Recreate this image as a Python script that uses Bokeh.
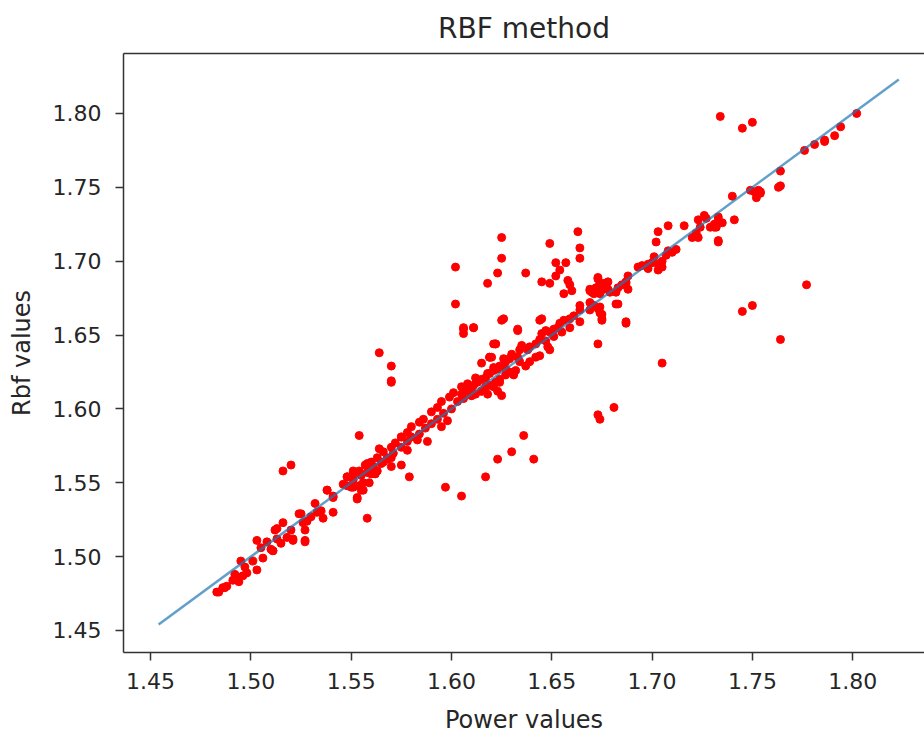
from bokeh.plotting import figure
from bokeh.models import FixedTicker, PrintfTickFormatter, LinearAxis, Range1d
from bokeh.embed import file_html
from bokeh.resources import INLINE

# Values
power_values = [
    1.734, 1.745, 1.750, 1.802, 1.794, 1.791, 1.786, 1.786, 1.781, 1.776,
    1.764, 1.763, 1.764, 1.751, 1.753, 1.752, 1.754, 1.749, 1.740, 1.754,
    1.726, 1.727, 1.731, 1.733, 1.732, 1.735, 1.741, 1.729, 1.733, 1.733,
    1.723, 1.724, 1.722, 1.720, 1.723, 1.733, 1.731, 1.716, 1.708, 1.703,
    1.702, 1.712, 1.710, 1.708, 1.707, 1.705, 1.703, 1.705, 1.703, 1.701,
    1.700, 1.698, 1.695, 1.693, 1.698, 1.688, 1.687, 1.685, 1.683, 1.688,
    1.677, 1.676, 1.679, 1.674, 1.682, 1.687, 1.675, 1.675, 1.673, 1.674,
    1.673, 1.678, 1.669, 1.669, 1.664, 1.671, 1.673, 1.663, 1.664, 1.664,
    1.649, 1.652, 1.657, 1.654, 1.652, 1.658, 1.659, 1.656, 1.660, 1.645,
    1.649, 1.637, 1.625, 1.625, 1.645, 1.633, 1.626, 1.623, 1.618, 1.602,
    1.602, 1.606, 1.606, 1.611, 1.622, 1.619, 1.564, 1.570, 1.570, 1.570,
    1.554, 1.564, 1.516, 1.520, 1.558, 1.597, 1.605, 1.617, 1.623, 1.630,
    1.579, 1.575, 1.764, 1.705, 1.673, 1.674, 1.681, 1.636, 1.641, 1.745,
    1.750, 1.777,
    1.673, 1.676, 1.678, 1.669, 1.670, 1.672, 1.674, 1.682, 1.683, 1.687,
    1.669, 1.671, 1.673, 1.674, 1.675, 1.687,
    1.664, 1.661, 1.659, 1.656, 1.654, 1.653, 1.651, 1.649, 1.647, 1.645,
    1.644, 1.647, 1.648, 1.642, 1.639, 1.638, 1.635, 1.634, 1.633, 1.630,
    1.629, 1.627, 1.624, 1.623, 1.621, 1.619, 1.617, 1.615, 1.613, 1.611,
    1.610, 1.607, 1.605, 1.664, 1.659, 1.655, 1.651, 1.649, 1.644, 1.642,
    1.639, 1.637, 1.634, 1.632, 1.629, 1.627, 1.624, 1.622, 1.619, 1.617,
    1.615, 1.612, 1.610, 1.644, 1.633, 1.621, 1.625, 1.611, 1.606, 1.619,
    1.615, 1.621, 1.631, 1.623, 1.625,
    1.622, 1.620, 1.626, 1.627, 1.612, 1.608, 1.605, 1.601, 1.599, 1.595,
    1.593, 1.590, 1.586, 1.584, 1.580, 1.578, 1.575, 1.572, 1.570, 1.566,
    1.563, 1.560, 1.557, 1.554, 1.551, 1.548, 1.546, 1.615, 1.610, 1.606,
    1.603, 1.600, 1.596, 1.593, 1.590, 1.587, 1.584, 1.580, 1.578, 1.575,
    1.571, 1.568, 1.565, 1.561, 1.558, 1.555, 1.551, 1.548, 1.621, 1.618,
    1.624, 1.595, 1.588, 1.598, 1.578, 1.570, 1.562, 1.556, 1.575, 1.583,
    1.618,
    1.538, 1.541, 1.551, 1.554, 1.553, 1.556, 1.558, 1.532, 1.525, 1.526,
    1.530, 1.533, 1.536, 1.541, 1.535, 1.527, 1.527, 1.516, 1.520, 1.521,
    1.518, 1.512, 1.513, 1.515, 1.503, 1.508, 1.510, 1.506, 1.511, 1.501,
    1.503, 1.495, 1.497, 1.498, 1.493, 1.491, 1.494, 1.488, 1.486, 1.484,
    1.492, 1.496, 1.505, 1.511, 1.513, 1.521, 1.527, 1.524, 1.528, 1.538,
    1.541, 1.548, 1.551, 1.550, 1.553, 1.555, 1.558, 1.560, 1.559, 1.563,
    1.568, 1.570, 1.566, 1.483, 1.487,
]

rbf_values = [
    1.798, 1.790, 1.794, 1.800, 1.791, 1.785, 1.781, 1.782, 1.779, 1.775,
    1.761, 1.750, 1.751, 1.747, 1.748, 1.743, 1.746, 1.748, 1.744, 1.747,
    1.731, 1.729, 1.725, 1.728, 1.723, 1.726, 1.728, 1.723, 1.714, 1.713,
    1.728, 1.723, 1.719, 1.716, 1.716, 1.730, 1.723, 1.724, 1.724, 1.720,
    1.713, 1.708, 1.706, 1.707, 1.704, 1.700, 1.698, 1.696, 1.694, 1.703,
    1.699, 1.695, 1.697, 1.696, 1.698, 1.690, 1.686, 1.684, 1.682, 1.681,
    1.684, 1.681, 1.679, 1.685, 1.671, 1.658, 1.664, 1.660, 1.644, 1.669,
    1.688, 1.681, 1.680, 1.667, 1.670, 1.678, 1.682, 1.720, 1.709, 1.702,
    1.712, 1.699, 1.699, 1.694, 1.690, 1.687, 1.684, 1.678, 1.680, 1.686,
    1.685, 1.692, 1.716, 1.702, 1.661, 1.653, 1.661, 1.692, 1.685, 1.696,
    1.671, 1.655, 1.651, 1.655, 1.644, 1.635, 1.638, 1.629, 1.619, 1.618,
    1.582, 1.573, 1.558, 1.562, 1.526, 1.547, 1.541, 1.554, 1.566, 1.571,
    1.554, 1.562, 1.647, 1.631, 1.596, 1.593, 1.601, 1.582, 1.566, 1.666,
    1.670, 1.684,
    1.689, 1.685, 1.686, 1.681, 1.679, 1.682, 1.678, 1.679, 1.671, 1.685,
    1.672, 1.670, 1.668, 1.665, 1.661, 1.659,
    1.667, 1.663, 1.661, 1.660, 1.658, 1.655, 1.654, 1.652, 1.653, 1.651,
    1.647, 1.646, 1.642, 1.644, 1.642, 1.640, 1.643, 1.640, 1.635, 1.637,
    1.634, 1.632, 1.629, 1.627, 1.626, 1.624, 1.621, 1.620, 1.618, 1.616,
    1.614, 1.612, 1.610, 1.659, 1.655, 1.652, 1.649, 1.640, 1.636, 1.635,
    1.632, 1.629, 1.632, 1.626, 1.625, 1.623, 1.620, 1.618, 1.616, 1.615,
    1.612, 1.610, 1.609, 1.660, 1.654, 1.644, 1.660, 1.655, 1.654, 1.635,
    1.631, 1.628, 1.623, 1.612, 1.609,
    1.644, 1.635, 1.634, 1.627, 1.621, 1.617, 1.615, 1.611, 1.608, 1.605,
    1.601, 1.598, 1.593, 1.591, 1.588, 1.584, 1.581, 1.577, 1.574, 1.571,
    1.567, 1.564, 1.562, 1.558, 1.556, 1.554, 1.549, 1.612, 1.609, 1.607,
    1.605, 1.600, 1.597, 1.593, 1.590, 1.587, 1.583, 1.581, 1.578, 1.574,
    1.570, 1.566, 1.563, 1.561, 1.557, 1.555, 1.552, 1.548, 1.615, 1.610,
    1.618, 1.588, 1.578, 1.592, 1.572, 1.567, 1.556, 1.550, 1.581, 1.579,
    1.624,
    1.545, 1.541, 1.547, 1.548, 1.539, 1.545, 1.562, 1.536, 1.529, 1.523,
    1.527, 1.530, 1.526, 1.530, 1.531, 1.518, 1.510, 1.523, 1.518, 1.512,
    1.513, 1.518, 1.512, 1.509, 1.511, 1.510, 1.505, 1.499, 1.504, 1.497,
    1.491, 1.497, 1.493, 1.489, 1.486, 1.484, 1.483, 1.480, 1.479, 1.476,
    1.488, 1.487, 1.506, 1.504, 1.519, 1.511, 1.511, 1.529, 1.524, 1.545,
    1.540, 1.554, 1.558, 1.547, 1.540, 1.545, 1.563, 1.556, 1.550, 1.558,
    1.567, 1.561, 1.564, 1.476, 1.479,
]

# Reference line y = x drawn over the data extent
line_x = [1.454, 1.823]
line_y = [1.454, 1.823]

x_ticks = [1.45, 1.50, 1.55, 1.60, 1.65, 1.70, 1.75, 1.80]
y_ticks = [1.45, 1.50, 1.55, 1.60, 1.65, 1.70, 1.75, 1.80]

FONT = "DejaVu Sans"
TXT = "#262626"

p = figure(width=924, height=737, output_backend="svg", toolbar_location=None,
           x_range=Range1d(1.4365, 1.8358), y_range=Range1d(1.4351, 1.8406),
           min_border_left=123, min_border_right=0, min_border_top=53,
           min_border_bottom=85)

p.scatter(power_values, rbf_values, size=8, color="red", line_color="red")
p.line(line_x, line_y, line_color="#1f77b4", line_alpha=0.7, line_width=2.5)

p.title.text = "RBF method"
p.title.align = "center"
p.title.text_font = FONT
p.title.text_font_size = "28px"
p.title.text_font_style = "normal"
p.title.text_color = TXT
p.title.standoff = 17

p.grid.visible = False
p.outline_line_color = None
p.background_fill_color = "white"
p.border_fill_color = "white"

for ax, ticks in ((p.xaxis[0], x_ticks), (p.yaxis[0], y_ticks)):
    ax.ticker = FixedTicker(ticks=ticks)
    ax.formatter = PrintfTickFormatter(format="%.2f")
    ax.major_tick_in = 0
    ax.major_tick_out = 8
    ax.minor_tick_in = 0
    ax.minor_tick_out = 0
    ax.axis_line_width = 1.5
    ax.major_tick_line_width = 1.5
    ax.axis_line_color = "#333333"
    ax.major_tick_line_color = "#333333"
    ax.major_label_text_font = FONT
    ax.major_label_text_font_size = "22px"
    ax.major_label_text_color = TXT
    ax.axis_label_text_font = FONT
    ax.axis_label_text_font_size = "24px"
    ax.axis_label_text_font_style = "normal"
    ax.axis_label_text_color = TXT

p.xaxis.axis_label = "Power values"
p.yaxis.axis_label = "Rbf values"
p.xaxis.major_label_standoff = 12
p.yaxis.major_label_standoff = 14
p.xaxis.axis_label_standoff = 14
p.yaxis.axis_label_standoff = 14

top = LinearAxis(ticker=FixedTicker(ticks=[]), axis_line_width=1.5,
                 axis_line_color="#333333", major_tick_line_color=None,
                 minor_tick_line_color=None, major_label_text_font_size="0px")
p.add_layout(top, "above")

open("out.html", "w").write(file_html(p, INLINE))
